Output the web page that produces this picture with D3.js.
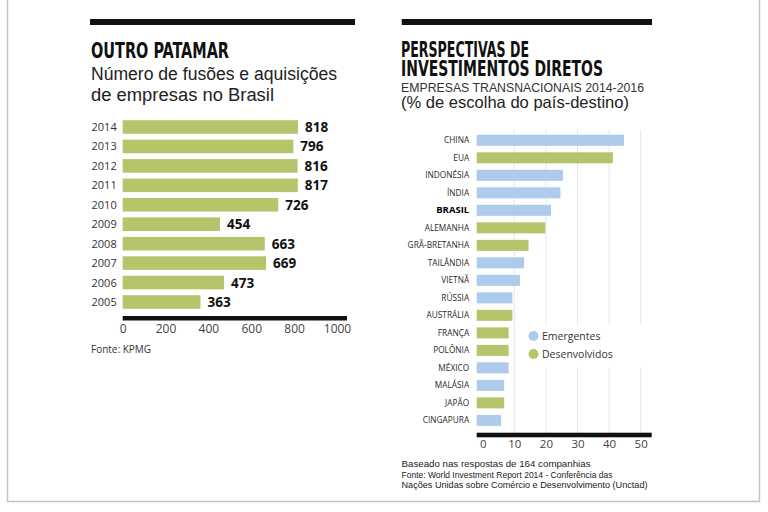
<!DOCTYPE html>
<html><head><meta charset="utf-8">
<script src="https://cdn.jsdelivr.net/npm/d3@7"></script>
<style>
html,body{margin:0;padding:0;background:#fff;}
svg{display:block;}
</style></head>
<body>
<script>
// ---- Data: left chart ----
const years = ["2014","2013","2012","2011","2010","2009","2008","2007","2006","2005"];
const deals = [818, 796, 816, 817, 726, 454, 663, 669, 473, 363];
const leftTicks = [0, 200, 400, 600, 800, 1000];

// ---- Data: right chart ----
const countries = ["CHINA","EUA","INDONÉSIA","ÍNDIA","BRASIL","ALEMANHA","GRÃ-BRETANHA","TAILÂNDIA","VIETNÃ","RÚSSIA","AUSTRÁLIA","FRANÇA","POLÔNIA","MÉXICO","MALÁSIA","JAPÃO","CINGAPURA"];
const shares = [44.7, 41.2, 25.4, 24.6, 21.6, 19.8, 14.5, 13.1, 11.8, 9.4, 9.4, 8.2, 8.2, 8.2, 6.8, 6.8, 5.8];
const groups = ["E","D","E","E","E","D","D","E","E","E","D","D","D","E","E","D","E"];
const rightTicks = [0, 10, 20, 30, 40, 50];
const legendItems = ["Emergentes", "Desenvolvidos"];

const BLUE = "#aecbeb", GREEN = "#b5c56c";

const svg = d3.select("body").append("svg").attr("width", 768).attr("height", 512);
svg.append("rect").attr("width", 768).attr("height", 512).attr("fill", "#fff");

// frame
svg.append("path").attr("d", "M7.5,0 V501.5 H759.5 V0")
  .attr("fill", "none").attr("stroke", "#c4c4c4").attr("stroke-width", 1.5);

const condensed = "'Liberation Sans Narrow','DejaVu Sans Condensed',sans-serif";
const sans = "'Open Sans','Liberation Sans',sans-serif";
const arial = "'Liberation Sans',Arial,sans-serif";

// ===== LEFT CHART =====
svg.append("rect").attr("x", 90).attr("y", 19).attr("width", 265).attr("height", 6).attr("fill", "#111");
svg.append("text").attr("x", 91).attr("y", 57.5).text("OUTRO PATAMAR")
  .attr("font-family", condensed).attr("font-weight", 700).attr("font-size", 21.5)
  .attr("textLength", 138).attr("lengthAdjust", "spacingAndGlyphs").attr("fill", "#111");
svg.append("text").attr("x", 91).attr("y", 80).text("Número de fusões e aquisições")
  .attr("font-family", arial).attr("font-size", 18).attr("fill", "#222")
  .attr("textLength", 246).attr("lengthAdjust", "spacingAndGlyphs");
svg.append("text").attr("x", 91).attr("y", 101).text("de empresas no Brasil")
  .attr("font-family", arial).attr("font-size", 18).attr("fill", "#222")
  .attr("textLength", 183).attr("lengthAdjust", "spacingAndGlyphs");

const xL = d3.scaleLinear().domain([0, 1000]).range([122.7, 337]);
const yL = d3.scaleBand().domain(years).range([120.2, 308.8]).paddingInner(0.3).paddingOuter(0);

const gL = svg.append("g");
gL.selectAll("rect.bar").data(years).join("rect").attr("class", "bar")
  .attr("x", xL(0)).attr("y", d => yL(d))
  .attr("width", (d, i) => xL(deals[i]) - xL(0)).attr("height", yL.bandwidth())
  .attr("fill", GREEN);
gL.selectAll("text.yr").data(years).join("text").attr("class", "yr")
  .attr("x", xL(0) - 6).attr("y", d => yL(d) + yL.bandwidth() / 2 + 4)
  .attr("text-anchor", "end").attr("font-family", sans).attr("font-size", 11)
  .attr("fill", "#333").text(d => d);
gL.selectAll("text.val").data(years).join("text").attr("class", "val")
  .attr("x", (d, i) => xL(deals[i]) + 7).attr("y", d => yL(d) + yL.bandwidth() / 2 + 5)
  .attr("font-family", sans).attr("font-weight", 700).attr("font-size", 13.5)
  .attr("fill", "#111").text((d, i) => deals[i]);

// axis
svg.append("rect").attr("x", xL(0)).attr("y", 316).attr("width", xL(1000) + 10 - xL(0)).attr("height", 4.5).attr("fill", "#111");
const axL = d3.axisBottom(xL).tickValues(leftTicks).tickFormat(d3.format("d")).tickSize(0).tickPadding(0);
const gAxL = svg.append("g").attr("transform", "translate(0,323)").call(axL);
gAxL.select(".domain").remove();
gAxL.selectAll("text").attr("font-family", sans).attr("font-size", 12).attr("fill", "#444").attr("dy", "0.85em");

svg.append("text").attr("x", 91).attr("y", 353).text("Fonte: KPMG")
  .attr("font-family", sans).attr("font-size", 10).attr("fill", "#333");

// ===== RIGHT CHART =====
svg.append("rect").attr("x", 401.7).attr("y", 19).attr("width", 250.3).attr("height", 6).attr("fill", "#111");
svg.append("text").attr("x", 401).attr("y", 56.7).text("PERSPECTIVAS DE")
  .attr("font-family", condensed).attr("font-weight", 700).attr("font-size", 20.5)
  .attr("textLength", 128).attr("lengthAdjust", "spacingAndGlyphs").attr("fill", "#111");
svg.append("text").attr("x", 401).attr("y", 75.7).text("INVESTIMENTOS DIRETOS")
  .attr("font-family", condensed).attr("font-weight", 700).attr("font-size", 20.5)
  .attr("textLength", 202).attr("lengthAdjust", "spacingAndGlyphs").attr("fill", "#111");
svg.append("text").attr("x", 401).attr("y", 92).text("EMPRESAS TRANSNACIONAIS 2014-2016")
  .attr("font-family", arial).attr("font-size", 12.8).attr("fill", "#333")
  .attr("textLength", 243).attr("lengthAdjust", "spacingAndGlyphs");
svg.append("text").attr("x", 401).attr("y", 107.5).text("(% de escolha do país-destino)")
  .attr("font-family", arial).attr("font-size", 16.5).attr("fill", "#222")
  .attr("textLength", 228).attr("lengthAdjust", "spacingAndGlyphs");

const xR = d3.scaleLinear().domain([0, 50]).range([482.7, 640.7]);
const yR = d3.scaleBand().domain(countries).range([134.8, 425.9]).paddingInner(0.37).paddingOuter(0);
const barStart = xR(0) - 6;

// gridlines
svg.append("g").selectAll("line").data(rightTicks.filter(t => t > 0)).join("line")
  .attr("x1", d => xR(d)).attr("x2", d => xR(d)).attr("y1", 130).attr("y2", 433)
  .attr("stroke", "#e6e6e6").attr("stroke-width", 1);

const gR = svg.append("g");
gR.selectAll("rect.bar").data(countries).join("rect").attr("class", "bar")
  .attr("x", barStart).attr("y", d => yR(d))
  .attr("width", (d, i) => xR(shares[i]) - barStart).attr("height", yR.bandwidth())
  .attr("fill", (d, i) => groups[i] === "E" ? BLUE : GREEN);
gR.selectAll("text.lbl").data(countries).join("text").attr("class", "lbl")
  .attr("x", barStart - 7.5).attr("y", d => yR(d) + yR.bandwidth() / 2 + 3)
  .attr("text-anchor", "end").attr("font-family", sans)
  .attr("font-size", d => d === "BRASIL" ? 9.5 : 8.3)
  .attr("font-weight", d => d === "BRASIL" ? 700 : 500)
  .attr("fill", d => d === "BRASIL" ? "#000" : "#2a2a2a")
  .text(d => d);

// legend
svg.append("rect").attr("x", 522).attr("y", 325).attr("width", 125).attr("height", 42).attr("fill", "#fff");
const lg = svg.append("g").selectAll("g").data(legendItems).join("g")
  .attr("transform", (d, i) => `translate(533.5,${336 + i * 18})`);
lg.append("circle").attr("r", 5).attr("fill", (d, i) => i === 0 ? BLUE : GREEN);
lg.append("text").attr("x", 8.5).attr("y", 4).attr("font-family", sans).attr("font-size", 10.5)
  .attr("fill", "#333").text(d => d);

// axis
svg.append("rect").attr("x", barStart).attr("y", 432.7).attr("width", xR(50) + 11 - barStart).attr("height", 4.6).attr("fill", "#111");
const axR = d3.axisBottom(xR).tickValues(rightTicks).tickSize(0).tickPadding(0);
const gAxR = svg.append("g").attr("transform", "translate(0,438)").call(axR);
gAxR.select(".domain").remove();
gAxR.selectAll("text").attr("font-family", sans).attr("font-size", 11.5).attr("fill", "#444").attr("dy", "0.85em");

const notes = ["Baseado nas respostas de 164 companhias",
  "Fonte: World Investment Report 2014 - Conferência das",
  "Nações Unidas sobre Comércio e Desenvolvimento (Unctad)"];
const noteLens = [189, 211, 246];
svg.append("g").selectAll("text").data(notes).join("text")
  .attr("x", 401.5).attr("y", (d, i) => 467 + i * 10.6)
  .attr("font-family", arial).attr("font-size", 9.4).attr("fill", "#222")
  .attr("textLength", (d, i) => noteLens[i]).attr("lengthAdjust", "spacingAndGlyphs")
  .text(d => d);
</script>
</body></html>
